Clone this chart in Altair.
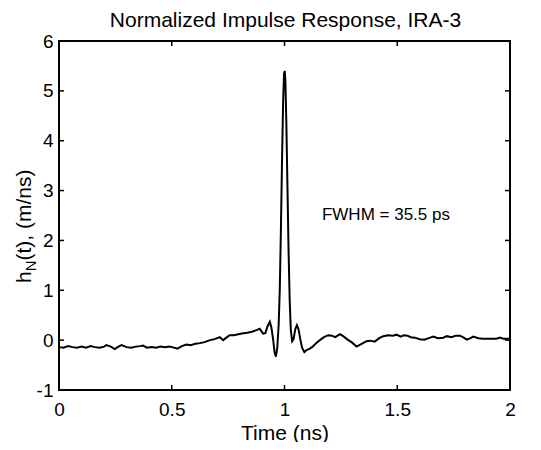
import altair as alt
import pandas as pd

# Time (ns) and normalized impulse response h_N(t) (m/ns)
time_ns = [0.00, 0.02, 0.04, 0.06, 0.08, 0.10, 0.12, 0.14, 0.16, 0.18, 0.20, 0.21, 0.23, 0.247,
           0.26, 0.277, 0.30, 0.32, 0.34, 0.36, 0.373, 0.39, 0.41, 0.43, 0.45, 0.47, 0.49, 0.51,
           0.525, 0.545, 0.565, 0.585, 0.605, 0.625, 0.645, 0.67, 0.69, 0.713, 0.728, 0.745,
           0.757, 0.775, 0.795, 0.817, 0.835, 0.855, 0.876, 0.89, 0.905, 0.915, 0.925, 0.935,
           0.942, 0.950, 0.956, 0.962, 0.968, 0.974, 0.979, 0.984, 0.989, 0.994, 0.998, 1.001,
           1.004, 1.008, 1.013, 1.018, 1.023, 1.028, 1.034, 1.040, 1.048, 1.055, 1.062, 1.070,
           1.078, 1.088, 1.098, 1.112, 1.125, 1.14, 1.157, 1.175, 1.194, 1.21, 1.225, 1.246,
           1.26, 1.283, 1.30, 1.32, 1.34, 1.364, 1.38, 1.40, 1.42, 1.438, 1.46, 1.48, 1.497,
           1.515, 1.53, 1.545, 1.56, 1.578, 1.60, 1.62, 1.64, 1.66, 1.68, 1.704, 1.72, 1.74,
           1.76, 1.778, 1.795, 1.808, 1.825, 1.837, 1.86, 1.88, 1.90, 1.926, 1.94, 1.955, 1.97, 2.0]
h_n = [-0.14, -0.15, -0.12, -0.14, -0.15, -0.13, -0.15, -0.12, -0.14, -0.15, -0.13, -0.10, -0.13, -0.18,
       -0.14, -0.10, -0.14, -0.15, -0.13, -0.12, -0.11, -0.15, -0.14, -0.15, -0.13, -0.14, -0.13, -0.15,
       -0.17, -0.12, -0.09, -0.10, -0.07, -0.06, -0.04, 0.00, 0.02, 0.06, 0.00, 0.06,
       0.10, 0.10, 0.12, 0.14, 0.15, 0.17, 0.20, 0.23, 0.13, 0.14, 0.28, 0.37,
       0.25, 0.00, -0.25, -0.33, -0.15, 0.30, 1.0, 2.2, 3.6, 4.8, 5.35, 5.40,
       5.2, 4.4, 3.1, 1.8, 0.8, 0.2, -0.02, 0.02, 0.22, 0.30, 0.22, 0.02,
       -0.15, -0.24, -0.20, -0.17, -0.13, -0.06, 0.00, 0.06, 0.10, 0.09, 0.06, 0.12,
       0.08, 0.00, -0.05, -0.13, -0.08, -0.02, -0.01, -0.03, 0.04, 0.08, 0.10, 0.09, 0.11,
       0.07, 0.10, 0.09, 0.06, 0.05, 0.02, 0.01, 0.04, 0.07, 0.04, 0.05, 0.08, 0.06,
       0.09, 0.09, 0.05, 0.01, 0.04, 0.07, 0.04, 0.03, 0.03, 0.03, 0.03, 0.05, 0.03, 0.03]

x_ticks = [0, 0.5, 1, 1.5, 2]
y_ticks = [-1, 0, 1, 2, 3, 4, 5, 6]

title_text = "Normalized Impulse Response, IRA-3"
x_title = "Time (ns)"
y_title_parts = ["h", "N", "(t), (m/ns)"]
note_text = "FWHM = 35.5 ps"
note_t, note_h = 1.166, 2.41

FONT = "Liberation Sans"
W, H = 451, 349

df = pd.DataFrame({"t": time_ns, "h": h_n})
xs = alt.Scale(domain=[0, 2], nice=False, zero=False)
ys = alt.Scale(domain=[-1, 6], nice=False, zero=False)

line = alt.Chart(df).mark_line(color="black", strokeWidth=2).encode(
    x=alt.X("t:Q", scale=xs,
            axis=alt.Axis(values=x_ticks, title=x_title, grid=False, ticks=False, tickSize=0,
                          domain=False, labelPadding=10, labelFontSize=19, labelFont=FONT,
                          labelColor="black", titleFont=FONT, titleFontSize=21,
                          titleFontWeight="normal", titleColor="black",
                          titleBaseline="alphabetic", titleY=49, labelFlush=False,
                          labelExpr="toString(datum.value)")),
    y=alt.Y("h:Q", scale=ys,
            axis=alt.Axis(values=y_ticks, title=None, grid=False, ticks=False, tickSize=0,
                          domain=False, labelPadding=6, labelFontSize=19, labelFont=FONT,
                          labelColor="black", labelFlush=False,
                          labelExpr="toString(datum.value)")),
)

xt = pd.DataFrame({"v": x_ticks})
yt = pd.DataFrame({"v": y_ticks})
tick_len = 5
xb = alt.Chart(xt).mark_rule(color="black", strokeWidth=1.5).encode(
    x=alt.X("v:Q", scale=xs), y=alt.value(H), y2=alt.value(H - tick_len))
xtop = alt.Chart(xt).mark_rule(color="black", strokeWidth=1.5).encode(
    x=alt.X("v:Q", scale=xs), y=alt.value(0), y2=alt.value(tick_len))
yl = alt.Chart(yt).mark_rule(color="black", strokeWidth=1.5).encode(
    y=alt.Y("v:Q", scale=ys), x=alt.value(0), x2=alt.value(tick_len))
yr = alt.Chart(yt).mark_rule(color="black", strokeWidth=1.5).encode(
    y=alt.Y("v:Q", scale=ys), x=alt.value(W - tick_len), x2=alt.value(W))

note = alt.Chart(pd.DataFrame({"t": [note_t], "h": [note_h], "s": [note_text]})).mark_text(
    align="left", baseline="alphabetic", font=FONT, fontSize=17, color="black"
).encode(x=alt.X("t:Q", scale=xs), y=alt.Y("h:Q", scale=ys), text="s:N")

# chart title as a text mark above the plot
title = alt.Chart(pd.DataFrame({"s": [title_text]})).mark_text(
    align="center", baseline="alphabetic", font=FONT, fontSize=21, color="black"
).encode(x=alt.value(W / 2 + 1), y=alt.value(-14), text="s:N")

# y-axis title with subscript, rotated
yx = -28
y0 = 242
fs_main, fs_sub = 21, 15
h_w = 0.556 * fs_main
n_w = 0.722 * fs_sub
yt1 = alt.Chart(pd.DataFrame({"s": [y_title_parts[0]]})).mark_text(
    align="left", baseline="alphabetic", angle=270, font=FONT, fontSize=fs_main, color="black"
).encode(x=alt.value(yx), y=alt.value(y0), text="s:N")
yt2 = alt.Chart(pd.DataFrame({"s": [y_title_parts[1]]})).mark_text(
    align="left", baseline="alphabetic", angle=270, font=FONT, fontSize=fs_sub, color="black"
).encode(x=alt.value(yx + 5), y=alt.value(y0 - h_w), text="s:N")
yt3 = alt.Chart(pd.DataFrame({"s": [y_title_parts[2]]})).mark_text(
    align="left", baseline="alphabetic", angle=270, font=FONT, fontSize=fs_main, color="black"
).encode(x=alt.value(yx), y=alt.value(y0 - h_w - n_w), text="s:N")

chart = alt.layer(line, xb, xtop, yl, yr, note, title, yt1, yt2, yt3).properties(
    width=W, height=H,
    autosize=alt.AutoSizeParams(type="none"),
    padding={"left": 51, "top": 33, "right": 23, "bottom": 52},
).configure(background="white").configure_view(stroke="black", strokeWidth=2)

chart.save("out.html", embed_options={"renderer": "svg", "actions": False})
